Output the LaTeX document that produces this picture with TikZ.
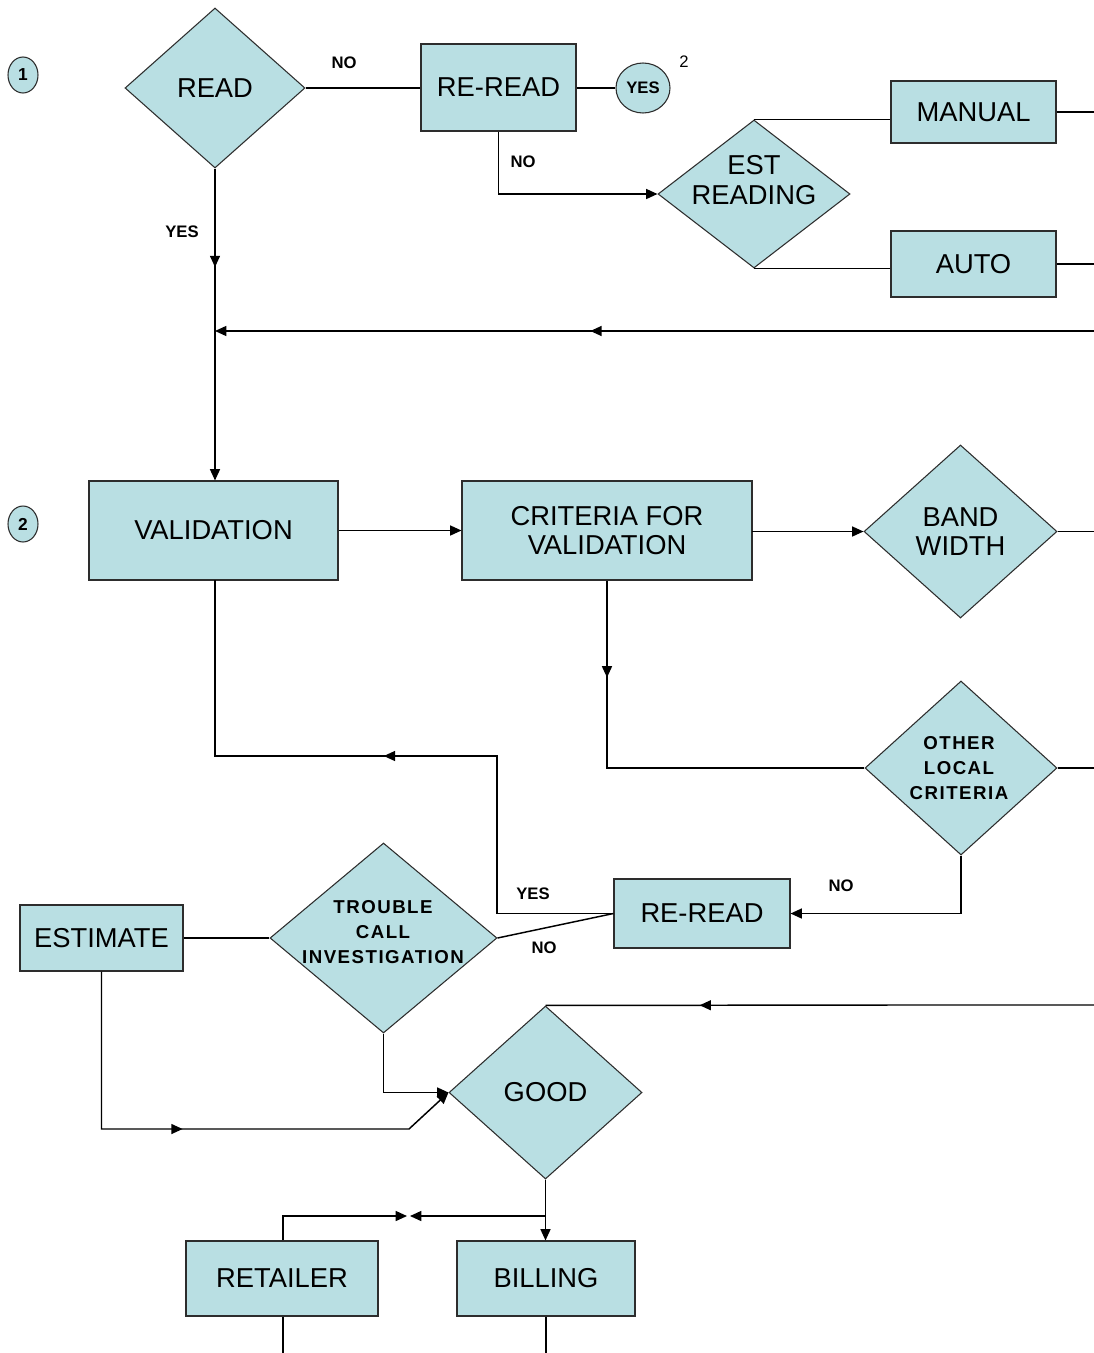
\documentclass[tikz,border=0pt]{standalone}
\usepackage{fontspec}
\setmainfont{Liberation Sans}
\newfontfamily\spacedfont[LetterSpace=8]{Liberation Sans}
\usetikzlibrary{shapes.geometric,arrows.meta,decorations.markings}
\definecolor{boxfill}{RGB}{185,223,227}
\definecolor{edgegray}{RGB}{45,45,45}
\begin{document}
\begin{tikzpicture}[x=0.75pt,y=-0.75pt,
  >={Triangle[length=8.5pt,width=7.5pt]},
  shapebase/.style={draw=edgegray,fill=boxfill,line width=0.8pt,inner sep=0pt,align=center,font=\fontsize{20.5}{22}\selectfont},
  box/.style n args={2}{shapebase,rectangle,minimum width=#1*0.75pt,minimum height=#2*0.75pt},
  dia/.style n args={2}{shapebase,diamond,minimum width=#1*0.75pt,minimum height=#2*0.75pt},
  oval/.style n args={2}{draw=edgegray,fill=boxfill,line width=0.8pt,ellipse,inner sep=0pt,minimum width=#1*0.75pt,minimum height=#2*0.75pt,font=\bfseries\fontsize{13}{14}\selectfont},
  bigtxt/.style={align=center,inner sep=0pt,font=\fontsize{20.5}{22}\selectfont},
  smalltxt/.style={align=center,inner sep=0pt,font=\spacedfont\bfseries\fontsize{14}{18.75}\selectfont},
  tag/.style={inner sep=0pt,font=\bfseries\fontsize{12.5}{14}\selectfont},
  conn/.style={line width=1.1pt,black},
  midarrow/.style={postaction={decorate},decoration={markings,mark=at position #1 with {\arrow{>}}}}
]
\useasboundingbox (0,0) rectangle (1094,1353);

% ---------- nodes ----------
\node[oval={30}{36}] (c1) at (23,75) {1};
\node[oval={30}{36}] (c2) at (23,524) {2};

\node[dia={180}{160}] (read) at (215,88) {};
\node[bigtxt] (readtxt) at (read) {READ};
\node[box={155}{87}] (reread) at (498.5,87.5) {RE-READ};
\node[oval={54}{50},font=\bfseries\fontsize{12.5}{14}\selectfont] (yes) at (643,88) {YES};
\node[inner sep=0pt,font=\fontsize{12.5}{14}\selectfont] (two) at (684,62) {2};
\node[dia={192}{148}] (est) at (754,194) {};
\node[bigtxt] (esttxt) at (754,180) {EST\\READING};
\node[box={165}{62}] (manual) at (973.5,112) {MANUAL};
\node[box={165}{66}] (auto) at (973.5,264) {AUTO};

\node[box={249}{99}] (valid) at (213.5,530.5) {VALIDATION};
\node[box={290}{99}] (crit) at (607,530.5) {CRITERIA FOR\\VALIDATION};
\node[dia={193}{173}] (band) at (960.5,531.5) {};
\node[bigtxt] (bandtxt) at (band) {BAND\\WIDTH};
\node[dia={192}{174}] (other) at (961,768) {};
\node[smalltxt] (othertxt) at (959,768) {OTHER\\LOCAL\\CRITERIA};
\node[box={176}{69}] (reread2) at (702,913.5) {RE-READ};
\node[dia={227}{190}] (trouble) at (383.5,938) {};
\node[smalltxt] (troubletxt) at (383,932) {TROUBLE\\CALL\\INVESTIGATION};
\node[box={163}{66}] (estimate) at (101.5,938) {ESTIMATE};
\node[dia={193}{173}] (good) at (545.5,1092.5) {};
\node[bigtxt] (goodtxt) at (good) {GOOD};
\node[box={192}{75}] (retailer) at (282,1278.5) {RETAILER};
\node[box={178}{75}] (billing) at (546,1278.5) {BILLING};

% ---------- labels ----------
\node[tag] (lno1) at (344,63) {NO};
\node[tag] (lno2) at (523,162) {NO};
\node[tag] (lyes1) at (182,232) {YES};
\node[tag] (lyes2) at (533,894) {YES};
\node[tag] (lno3) at (544,948) {NO};
\node[tag] (lno4) at (841,886) {NO};

% ---------- free ends ----------
\coordinate (eManual) at (1094,112);
\coordinate (eAuto) at (1094,264);
\coordinate (eRet) at (1094,331);
\coordinate (jRet) at (215,331);
\coordinate (eBand) at (1094,531.5);
\coordinate (eOther) at (1094,768);
\coordinate (eGood) at (1094,1005);
\coordinate (jSplit) at (546,1216);
\coordinate (tipL) at (410,1216);
\coordinate (tipR) at (407,1216);
\coordinate (eRetailer) at (283,1353);
\coordinate (eBilling) at (546,1353);

% ---------- connectors ----------
\draw[conn] (read.east) -- (reread.west |- read.east);
\draw[conn] (reread.east |- yes.west) -- (yes.west);
\draw[conn,->] (reread.south) -- (reread.south |- est.west) -- (est.west);
\draw[conn] (est.north) -- (est.north -| manual.west);
\draw[conn] (est.south) -- (est.south -| auto.west);
\draw[conn] (manual.east) -- (eManual);
\draw[conn] (auto.east) -- (eAuto);
\draw[conn,->,midarrow=0.573] (eRet) -- (jRet);
\draw[conn,->,midarrow=0.316] (read.south) -- (read.south |- valid.north);

\draw[conn,->] (valid.east) -- (crit.west);
\draw[conn,->] (crit.east) -- (crit.east |- band.west) -- (band.west);
\draw[conn] (band.east) -- (eBand);
\draw[conn,midarrow=0.218] (crit.south) -- (crit.south |- other.west) -- (other.west);
\draw[conn] (other.east) -- (eOther);
\draw[conn,->] (other.south) -- (other.south |- reread2.east) -- (reread2.east);
\draw[conn,midarrow=0.529] (reread2.west) -- (497,913.5) -- (497,756) -- (215,756) -- (215,580);
\draw[conn] (reread2.west) -- (trouble.east);
\draw[conn] (estimate.east) -- (trouble.west);
\draw[conn,->,midarrow=0.46] (estimate.south) -- (estimate.south |- 0,1129) -- (409,1129) -- (good.west);
\draw[conn,->] (trouble.south) -- (trouble.south |- good.west) -- (good.west);
\draw[conn,midarrow=0.719] (eGood) -- (890,1005) -- (good.north);
\draw[conn,->] (good.south) -- (good.south |- billing.north);
\draw[conn,->] (jSplit) -- (tipL);
\draw[conn,->] (eRetailer |- retailer.north) -- (eRetailer |- tipR) -- (tipR);
\draw[conn] (eRetailer |- retailer.south) -- (eRetailer);
\draw[conn] (billing.south) -- (eBilling);
\end{tikzpicture}
\end{document}
